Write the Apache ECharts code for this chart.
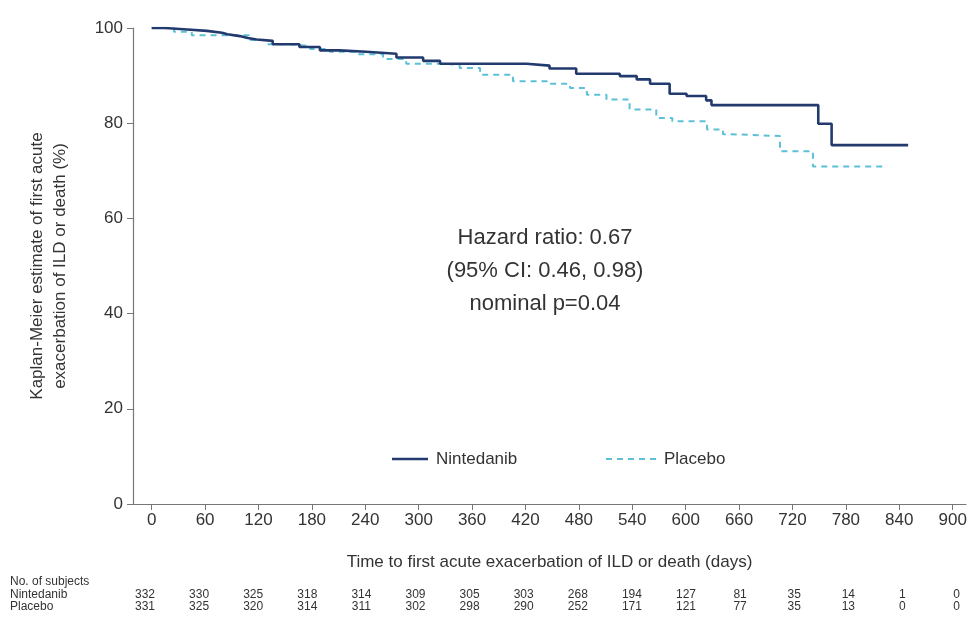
<!DOCTYPE html>
<html><head><meta charset="utf-8">
<script src="https://cdn.jsdelivr.net/npm/echarts@6/dist/echarts.min.js"></script>
<style>html,body{margin:0;padding:0;background:#fff}#c{width:975px;height:626px}</style>
</head><body><div id="c"></div>
<script>
// Kaplan-Meier step data: [day, estimate %]
var nintedanibDays = [0, 15, 40, 62, 79, 85, 99, 108, 118, 136, 166, 189, 211, 241, 275, 305, 324, 421, 447, 477, 526, 545, 560, 582, 601, 623, 629, 749, 764, 850];
var nintedanibVals = [100, 99.7, 99.4, 99.0, 98.7, 98.3, 97.9, 97.6, 97.3, 96.6, 96.0, 95.3, 95.0, 94.6, 93.8, 93.1, 92.5, 92.1, 91.5, 90.4, 89.9, 89.2, 88.3, 86.2, 85.7, 84.8, 83.8, 79.9, 75.4, 75.4];
var placeboDays = [0, 25, 45, 110, 130, 153, 178, 200, 230, 260, 286, 330, 346, 369, 406, 444, 470, 489, 511, 537, 567, 585, 624, 642, 649, 706, 743, 821];
var placeboVals = [100, 99.2, 98.5, 97.5, 96.6, 96.2, 95.6, 95.0, 94.5, 93.5, 92.5, 92.2, 91.6, 90.2, 88.8, 88.3, 87.4, 86.0, 85.0, 82.9, 81.1, 80.4, 78.7, 77.7, 77.3, 74.1, 70.9, 70.9];
var xTicks = [0, 60, 120, 180, 240, 300, 360, 420, 480, 540, 600, 660, 720, 780, 840, 900];
var atRiskNintedanib = [332, 330, 325, 318, 314, 309, 305, 303, 268, 194, 127, 81, 35, 14, 1, 0];
var atRiskPlacebo = [331, 325, 320, 314, 311, 302, 298, 290, 252, 171, 121, 77, 35, 13, 0, 0];
var seriesNames = ['Nintedanib', 'Placebo'];
var annotation = ['Hazard ratio: 0.67', '(95% CI: 0.46, 0.98)', 'nominal p=0.04'];

function pairs(d, v) { return d.map(function (x, i) { return [x, v[i]]; }); }

var chart = echarts.init(document.getElementById('c'), null, {renderer: 'canvas'});
var FONT = 'Liberation Sans, Arial, sans-serif';
var TXT = '#333';
var C1 = '#223a6e', C2 = '#5cc0d6';

var graphics = [];
annotation.forEach(function (t, i) {
  graphics.push({type: 'text',
    style: {text: t, x: 545, y: 238 + i * 33, fill: TXT, font: '22px ' + FONT, textAlign: 'center', textVerticalAlign: 'middle'}});
});
var tf = '12px ' + FONT;
graphics.push({type: 'text', style: {text: 'No. of subjects', x: 10, y: 582, fill: TXT, font: tf, textVerticalAlign: 'middle'}});
graphics.push({type: 'text', style: {text: seriesNames[0], x: 10, y: 595, fill: TXT, font: tf, textVerticalAlign: 'middle'}});
graphics.push({type: 'text', style: {text: seriesNames[1], x: 10, y: 607, fill: TXT, font: tf, textVerticalAlign: 'middle'}});
atRiskNintedanib.forEach(function (n, i) {
  graphics.push({type: 'text', style: {text: String(n), x: 145 + i * 54.1, y: 595, fill: TXT, font: tf, textAlign: 'center', textVerticalAlign: 'middle'}});
});
atRiskPlacebo.forEach(function (n, i) {
  graphics.push({type: 'text', style: {text: String(n), x: 145 + i * 54.1, y: 607, fill: TXT, font: tf, textAlign: 'center', textVerticalAlign: 'middle'}});
});
// legend drawn as graphic elements (line sample + label)
graphics.push({type: 'line', shape: {x1: 392, y1: 459, x2: 428, y2: 459}, style: {stroke: C1, lineWidth: 2.6}});
graphics.push({type: 'text', style: {text: seriesNames[0], x: 436, y: 459, fill: TXT, font: '17px ' + FONT, textVerticalAlign: 'middle'}});
graphics.push({type: 'line', shape: {x1: 606, y1: 459, x2: 656, y2: 459}, style: {stroke: C2, lineWidth: 2, lineDash: [6, 5]}});
graphics.push({type: 'text', style: {text: seriesNames[1], x: 664, y: 459, fill: TXT, font: '17px ' + FONT, textVerticalAlign: 'middle'}});

chart.setOption({
  animation: false,
  backgroundColor: '#fff',
  grid: {left: 133, right: 9, top: 28, bottom: 122, containLabel: false},
  xAxis: {
    type: 'value', min: -21, max: 915,
    axisLine: {show: true, onZero: false, lineStyle: {color: '#777', width: 1.2}},
    axisTick: {show: true, customValues: xTicks, length: 6, lineStyle: {color: '#777'}},
    axisLabel: {customValues: xTicks, color: TXT, fontSize: 17, fontFamily: FONT, margin: 8},
    splitLine: {show: false},
    name: 'Time to first acute exacerbation of ILD or death (days)',
    nameLocation: 'middle', nameGap: 50,
    nameTextStyle: {color: TXT, fontSize: 17, fontFamily: FONT}
  },
  yAxis: {
    type: 'value', min: 0, max: 100, interval: 20,
    axisLine: {show: true, onZero: false, lineStyle: {color: '#777', width: 1.2}},
    axisTick: {show: true, length: 6, lineStyle: {color: '#777'}},
    axisLabel: {color: TXT, fontSize: 17, fontFamily: FONT, margin: 10},
    splitLine: {show: false},
    name: 'Kaplan-Meier estimate of first acute\nexacerbation of ILD or death (%)',
    nameLocation: 'middle', nameGap: 61, nameRotate: 90,
    nameTextStyle: {color: TXT, fontSize: 17, fontFamily: FONT, lineHeight: 23}
  },
  series: [
    {name: seriesNames[0], type: 'line', step: 'end', symbol: 'none', z: 3,
      data: pairs(nintedanibDays, nintedanibVals),
      lineStyle: {color: C1, width: 2.6}, itemStyle: {color: C1}},
    {name: seriesNames[1], type: 'line', step: 'end', symbol: 'none', z: 2,
      data: pairs(placeboDays, placeboVals),
      lineStyle: {color: C2, width: 2, type: [6, 5]}, itemStyle: {color: C2}}
  ],
  graphic: graphics
});
</script></body></html>
